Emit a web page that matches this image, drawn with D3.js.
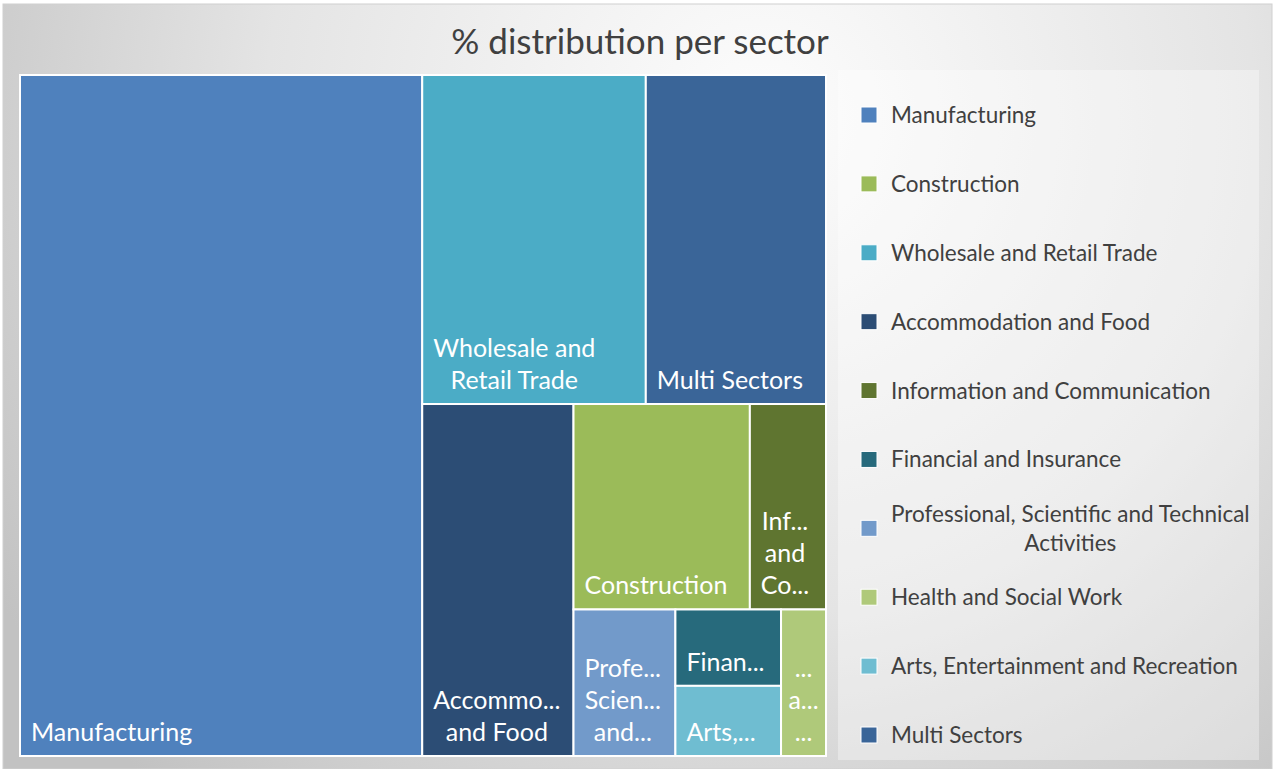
<!DOCTYPE html>
<html>
<head>
<meta charset="utf-8">
<script src="https://cdn.jsdelivr.net/npm/d3@7"></script>
<style>
  body { margin: 0; background: #fff; }
  text { font-family: Lato, "Open Sans", sans-serif; }
</style>
</head>
<body>
<script>

// sectors, in legend order
var sectors = ["Manufacturing", "Construction", "Wholesale and Retail Trade",
  "Accommodation and Food", "Information and Communication", "Financial and Insurance",
  "Professional, Scientific and Technical Activities", "Health and Social Work",
  "Arts, Entertainment and Recreation", "Multi Sectors"];

// % share per sector
var shares = [49.9, 6.6, 13.4, 9.7, 2.85, 1.47, 2.72, 1.2, 1.35, 10.8];

var colors = ["#4f81bd", "#9bbb59", "#4bacc6", "#2c4d75", "#5f7530", "#276a7c",
  "#729aca", "#afc97a", "#6fbdd1", "#3a6598"];

var chartTitle = "% distribution per sector";

var w = 1275, h = 769;
var plotX = 20, plotY = 75, plotW = 806, plotH = 681;

var labelSize = 25, lineH = 32, cellPad = 9;

var svg = d3.select("body").append("svg")
  .attr("width", w)
  .attr("height", h);

//Background gradient like the Excel chart style
var defs = svg.append("defs");
var grad = defs.append("radialGradient")
  .attr("id", "bg")
  .attr("gradientUnits", "userSpaceOnUse")
  .attr("cx", 760).attr("cy", 120).attr("r", 900);
grad.append("stop").attr("offset", "0").attr("stop-color", "#fdfdfd");
grad.append("stop").attr("offset", "0.55").attr("stop-color", "#e4e4e4");
grad.append("stop").attr("offset", "1").attr("stop-color", "#c2c2c2");

svg.append("rect")
  .attr("x", 3).attr("y", 4)
  .attr("width", w - 6).attr("height", h - 4)
  .attr("fill", "url(#bg)")
  .attr("stroke", "#d0d0d0");

//Title
svg.append("text")
  .attr("x", 640)
  .attr("y", 54)
  .attr("text-anchor", "middle")
  .attr("font-size", 35)
  .attr("fill", "#404040")
  .text(chartTitle);

//Legend box
svg.append("rect")
  .attr("x", 838).attr("y", 70)
  .attr("width", 421).attr("height", 690)
  .attr("fill", "#ffffff")
  .attr("fill-opacity", 0.35);

// measuring helper
var meas = svg.append("text").attr("visibility", "hidden");
function textW(s, size) {
  meas.attr("font-size", size).text(s);
  return meas.node().getComputedTextLength();
}

function truncate(word, maxW, size) {
  if (textW(word, size) <= maxW) return word;
  for (var k = word.length - 1; k > 0; k--) {
    var t = word.slice(0, k) + "...";
    if (textW(t, size) <= maxW) return t;
  }
  return "...";
}

function wrap(label, maxW, maxLines, size) {
  var words = label.split(" ");
  var lines = [], cur = "";
  words.forEach(function(wd) {
    var test = cur ? cur + " " + wd : wd;
    if (textW(test, size) <= maxW) { cur = test; return; }
    if (cur) lines.push(cur);
    cur = truncate(wd, maxW, size);
  });
  if (cur) lines.push(cur);
  if (lines.length > maxLines) {
    lines = lines.slice(0, Math.max(maxLines, 1));
    var last = lines[lines.length - 1];
    if (last.slice(-3) !== "...") {
      var t = last + "...";
      if (textW(t, size) > maxW) t = truncate(last, maxW - textW("...", size), size).replace(/\.\.\.$/, "") + "...";
      lines[lines.length - 1] = t;
    }
  }
  return lines;
}

// binary split (like d3.treemapBinary), groups of three squarified
function tile(parent, x0, y0, x1, y1) {
  var nodes = parent.children, n = nodes.length;
  var sums = [0];
  for (var i = 0; i < n; i++) sums.push(sums[i] + nodes[i].value);

  function part(i, j, value, x0, y0, x1, y1) {
    if (j - i === 1) {
      var nd = nodes[i];
      nd.x0 = x0; nd.y0 = y0; nd.x1 = x1; nd.y1 = y1;
      return;
    }
    if (j - i === 3) {
      d3.treemapSquarify({ children: nodes.slice(i, j), value: value }, x0, y0, x1, y1);
      return;
    }
    var target = value / 2 + sums[i], k = i + 1, hi = j - 1;
    while (k < hi) {
      var mid = (k + hi) >>> 1;
      if (sums[mid] < target) k = mid + 1; else hi = mid;
    }
    if ((target - sums[k - 1]) < (sums[k] - target) && i + 1 < k) --k;
    var vl = sums[k] - sums[i], vr = value - vl;
    if ((x1 - x0) > (y1 - y0)) {
      var xk = (x0 * vr + x1 * vl) / value;
      part(i, k, vl, x0, y0, xk, y1);
      part(k, j, vr, xk, y0, x1, y1);
    } else {
      var yk = (y0 * vr + y1 * vl) / value;
      part(i, k, vl, x0, y0, x1, yk);
      part(k, j, vr, x0, yk, x1, y1);
    }
  }
  part(0, n, parent.value, x0, y0, x1, y1);
}

var color = d3.scaleOrdinal().domain(sectors).range(colors);

var root = d3.hierarchy({ children: sectors.map(function(s, i) { return { name: s, value: shares[i] }; }) })
  .sum(function(d) { return d.value || 0; })
  .sort(function(a, b) { return b.value - a.value; });

d3.treemap().tile(tile).size([plotW, plotH])(root);

var cells = svg.append("g")
  .attr("transform", "translate(" + plotX + "," + plotY + ")")
  .selectAll("g")
  .data(root.leaves())
  .enter().append("g");

cells.append("rect")
  .attr("x", function(d) { return d.x0; })
  .attr("y", function(d) { return d.y0; })
  .attr("width", function(d) { return d.x1 - d.x0; })
  .attr("height", function(d) { return d.y1 - d.y0; })
  .attr("fill", function(d) { return color(d.data.name); })
  .attr("stroke", "#ffffff")
  .attr("stroke-width", 2);

//Cell labels, bottom-left, lines centred on each other
cells.each(function(d) {
  var cw = d.x1 - d.x0, ch = d.y1 - d.y0;
  var maxLines = Math.floor((ch - 20) / lineH);
  var avail = Math.max(cw - 2 * cellPad, cw * 0.68);
  var lines = wrap(d.data.name, avail, maxLines, labelSize);
  var blockW = d3.max(lines, function(l) { return textW(l, labelSize); });
  var cx = d.x0 + Math.min(11, (cw - blockW) / 2) + blockW / 2;
  var lastY = d.y1 - 15;
  d3.select(this).selectAll("text.lab")
    .data(lines)
    .enter().append("text")
    .attr("class", "lab")
    .attr("x", cx)
    .attr("y", function(l, i) { return lastY - (lines.length - 1 - i) * lineH; })
    .attr("text-anchor", "middle")
    .attr("font-size", labelSize)
    .attr("fill", "#ffffff")
    .text(function(l) { return l; });
});

//Legend
var legendSize = 22.5;
var legY = d3.scalePoint().domain(sectors).range([115, 735]);

var leg = svg.append("g").selectAll("g")
  .data(sectors)
  .enter().append("g");

leg.append("rect")
  .attr("x", 861)
  .attr("y", function(d) { return legY(d) - 8; })
  .attr("width", 16)
  .attr("height", 16)
  .attr("fill", function(d) { return color(d); })
  .attr("stroke", "#ffffff")
  .attr("stroke-width", 1);

leg.each(function(d) {
  var lines = wrap(d, 362, 3, legendSize);
  var blockW = d3.max(lines, function(l) { return textW(l, legendSize); });
  var cy = legY(d);
  d3.select(this).selectAll("text")
    .data(lines)
    .enter().append("text")
    .attr("x", 891 + blockW / 2)
    .attr("y", function(l, i) { return cy + 8 + (i - (lines.length - 1) / 2) * 29; })
    .attr("text-anchor", "middle")
    .attr("font-size", legendSize)
    .attr("fill", "#404040")
    .text(function(l) { return l; });
});

meas.remove();

</script>
</body>
</html>
